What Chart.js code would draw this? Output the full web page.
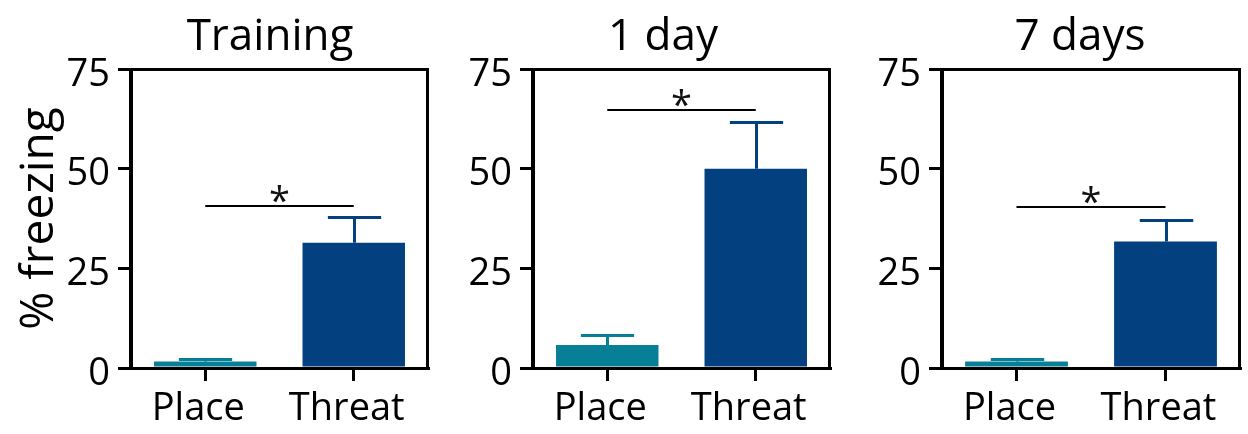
<!DOCTYPE html>
<html><head><meta charset="utf-8">
<script src="https://cdn.jsdelivr.net/npm/chart.js@4.4.1/dist/chart.umd.min.js"></script>
<style>
html,body{margin:0;padding:0;background:#fff;}
#wrap{position:relative;width:1248px;height:434px;overflow:hidden;background:#fff;}
#wrap canvas{position:absolute;top:0;}
</style></head><body>
<div id="wrap">
<canvas id="c0" width="440" height="434" style="left:0px"></canvas>
<canvas id="c1" width="400" height="434" style="left:440px"></canvas>
<canvas id="c2" width="408" height="434" style="left:840px"></canvas>
</div>
<script>
// ---- data ----
const categories = ['Place', 'Threat'];
const panelTitles = ['Training', '1 day', '7 days'];
const yAxisTitle = '% freezing';
const meanTraining = [1.6, 31.4];
const semTraining  = [0.7, 6.4];
const meanDay1     = [5.8, 50.0];
const semDay1      = [2.5, 11.6];
const meanDay7     = [1.6, 31.7];
const semDay7      = [0.6, 5.4];
const sigLevels    = [40.7, 64.8, 40.4];
const sigLabels    = ['*', '*', '*'];
const yTicks       = [0, 25, 50, 75];

// ---- styles / layout ----
const barColors = ['#077F97', '#02407F'];
const FONT = '"Open Sans", "DejaVu Sans", sans-serif';
const panels = [
  {id:'c0', yWidth:131, padRight:12, titleX:270, showYTitle:true,  mean:meanTraining, sem:semTraining, sig:sigLevels[0], star:sigLabels[0], title:panelTitles[0]},
  {id:'c1', yWidth:93,  padRight:10, titleX:223, showYTitle:false, mean:meanDay1,     sem:semDay1,     sig:sigLevels[1], star:sigLabels[1], title:panelTitles[1]},
  {id:'c2', yWidth:102, padRight:8,  titleX:240, showYTitle:false, mean:meanDay7,     sem:semDay7,     sig:sigLevels[2], star:sigLabels[2], title:panelTitles[2]}
];

const decor = {
  id: 'decor',
  afterDatasetsDraw(chart, args, opts) {
    const ctx = chart.ctx, xs = chart.scales.x, ys = chart.scales.y;
    const meta = chart.getDatasetMeta(0);
    ctx.save();
    // error bars (upper SEM)
    opts.mean.forEach((m, i) => {
      const bar = meta.data[i];
      const cx = Math.round(bar.x) + 0.5, w = bar.width;
      const yTop = ys.getPixelForValue(m);
      const yCap = Math.round(ys.getPixelForValue(m + opts.sem[i])) + 0.5;
      ctx.strokeStyle = barColors[i];
      ctx.lineWidth = 3;
      ctx.lineCap = 'butt';
      ctx.beginPath();
      ctx.moveTo(cx, yTop); ctx.lineTo(cx, yCap);
      ctx.moveTo(cx - w * 0.26, yCap); ctx.lineTo(cx + w * 0.26, yCap);
      ctx.stroke();
    });
    // significance bracket
    const yS = Math.round(ys.getPixelForValue(opts.sig));
    const x0 = xs.getPixelForValue(0), x1 = xs.getPixelForValue(1);
    ctx.strokeStyle = '#000';
    ctx.lineWidth = 2;
    ctx.beginPath(); ctx.moveTo(x0, yS); ctx.lineTo(x1, yS); ctx.stroke();
    ctx.fillStyle = '#111';
    ctx.font = '38px ' + FONT;
    ctx.textAlign = 'center';
    ctx.textBaseline = 'alphabetic';
    ctx.fillText(opts.star, (x0 + x1) / 2, yS + 8);
    // frame
    const a = chart.chartArea;
    ctx.strokeStyle = '#000';
    ctx.lineWidth = 3;
    ctx.beginPath();
    ctx.rect(Math.round(a.left) - 0.5, Math.round(a.top) + 0.5, Math.round(a.right - a.left), Math.round(a.bottom - a.top));
    ctx.stroke();
    // panel title
    ctx.fillStyle = '#000';
    ctx.font = '44px ' + FONT;
    ctx.textAlign = 'center';
    ctx.fillText(opts.title, opts.titleX, 50);
    ctx.restore();
  }
};

panels.forEach(p => {
  new Chart(document.getElementById(p.id), {
    type: 'bar',
    data: {
      labels: categories,
      datasets: [{
        data: p.mean,
        backgroundColor: barColors,
        borderWidth: 0,
        barPercentage: 0.69,
        categoryPercentage: 1
      }]
    },
    plugins: [decor],
    options: {
      responsive: false,
      animation: false,
      events: [],
      layout: { padding: { left: 0, right: p.padRight, top: 69, bottom: 0 } },
      plugins: {
        legend: { display: false },
        tooltip: { enabled: false },
        decor: { mean: p.mean, sem: p.sem, sig: p.sig, star: p.star, title: p.title, titleX: p.titleX }
      },
      scales: {
        x: {
          type: 'category',
          afterFit(s) { s.height = 66; },
          grid: { display: true, offset: false, drawOnChartArea: false, drawTicks: true, tickLength: 13, lineWidth: 3, color: '#000' },
          border: { display: true, width: 3, color: '#000' },
          ticks: { color: '#000', font: { family: FONT, size: 38 }, padding: 5, maxRotation: 0, labelOffset: -7 }
        },
        y: {
          min: 0, max: 75,
          afterFit(s) { s.width = p.yWidth; },
          afterBuildTicks(s) { s.ticks = yTicks.map(v => ({ value: v })); },
          grid: { display: true, drawOnChartArea: false, drawTicks: true, tickLength: 13, lineWidth: 3, color: '#000' },
          border: { display: true, width: 3, color: '#000' },
          ticks: { color: '#000', font: { family: FONT, size: 38 }, padding: 8, labelOffset: 6 },
          title: { display: p.showYTitle, text: yAxisTitle, color: '#000', font: { family: FONT, size: 46, lineHeight: 1 }, padding: { top: 17, bottom: 0 } }
        }
      }
    }
  });
});
</script>
</body></html>
